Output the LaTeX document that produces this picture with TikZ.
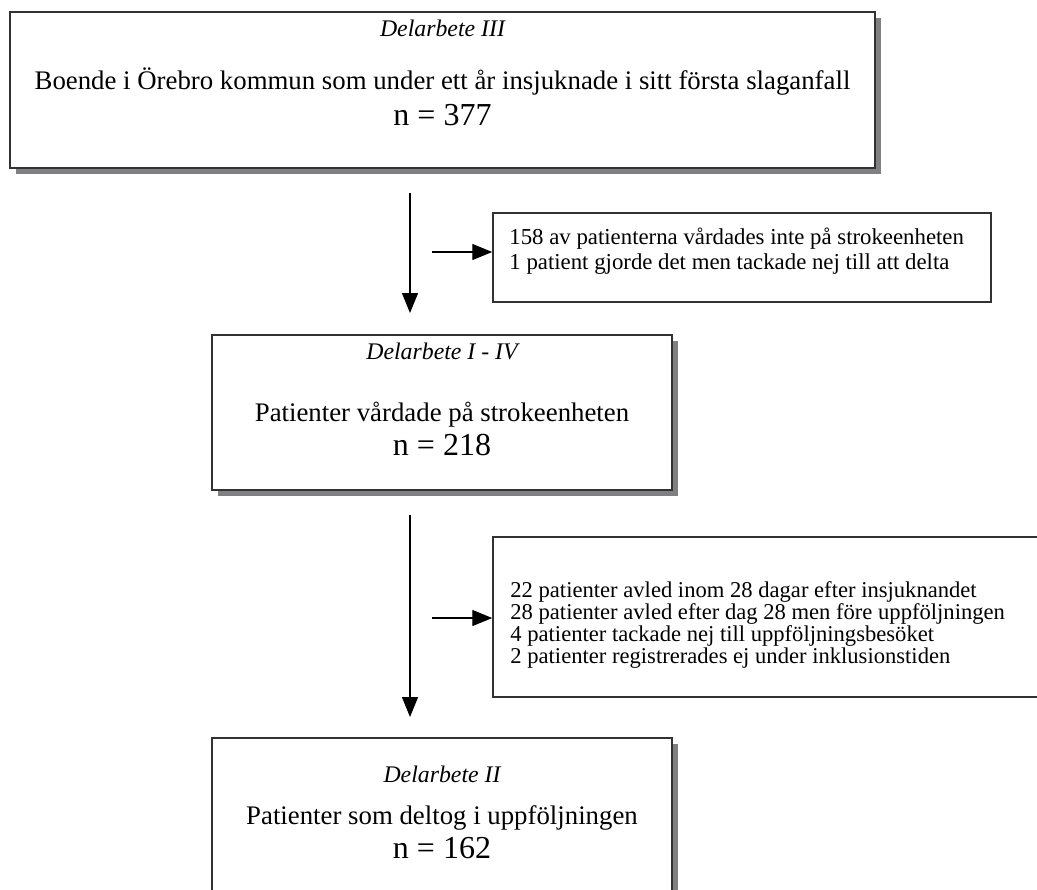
\documentclass[tikz,border=0pt]{standalone}
\usepackage{fontspec}
\setmainfont{Liberation Serif}
\usepackage{tikz}
\usetikzlibrary{arrows.meta,positioning,shadows}
\usepackage{xcolor}
\definecolor{boxline}{RGB}{50,50,50}
\definecolor{shadowgray}{RGB}{128,128,130}
\newcommand\tightlines{\lineskiplimit=-10pt\relax}

\begin{document}
\begin{tikzpicture}[x=0.5pt, y=-0.5pt,
  box/.style={draw=boxline, line width=0.75pt, fill=white, inner sep=0pt,
    drop shadow={shadow xshift=3pt, shadow yshift=-3pt, fill=shadowgray, opacity=1}},
  sidebox/.style={draw=boxline, line width=0.75pt, fill=white, inner sep=0pt},
  title/.style={inner sep=0pt, font=\fontsize{11.9}{13}\selectfont\itshape},
  maintext/.style={inner sep=0pt, font=\fontsize{13.4}{15}\selectfont},
  count/.style={inner sep=0pt, font=\fontsize{16}{18}\selectfont},
  sidetext/.style={inner sep=0pt, align=left, anchor=west},
  flow/.style={line width=0.65pt, -{Triangle[length=10pt, width=8pt]}}
]
\useasboundingbox (0,0) rectangle (1037,889);

% -------- Delarbete III --------
\node[box, minimum width=432.5pt, minimum height=78pt] (b1) at (442.5,90) {};
\node[title] (t1) at (442.5,28) {Delarbete III};
\node[maintext] (m1) at (442.5,82) {Boende i Örebro kommun som under ett år insjuknade i sitt första slaganfall};
\node[count] (n1) at (442.5,115) {n = 377};

% Bortfall 1
\node[sidebox, minimum width=249pt, minimum height=44.5pt] (s1) at (742,257.5) {};
\node[sidetext, font=\fontsize{11.4}{12.5}\selectfont] (e1) at (509,251)
  {158 av patienterna vårdades inte på strokeenheten\\1 patient gjorde det men tackade nej till att delta};

% -------- Delarbete I - IV --------
\node[box, minimum width=230pt, minimum height=77.5pt] (b2) at (442,412.5) {};
\node[title] (t2) at (442,351) {Delarbete I - IV};
\node[maintext] (m2) at (442,415) {Patienter vårdade på strokeenheten};
\node[count] (n2) at (442,445) {n = 218};

% Bortfall 2
\node[sidebox, minimum width=310pt, minimum height=80pt] (s2) at (803,617) {};
\node[sidetext, font=\fontsize{11.3}{11.1}\selectfont\tightlines] (e2) at (510,625)
  {22 patienter avled inom 28 dagar efter insjuknandet\\
   28 patienter avled efter dag 28 men före uppföljningen\\
   4 patienter tackade nej till uppföljningsbesöket\\
   2 patienter registrerades ej under inklusionstiden};

% -------- Delarbete II --------
\node[box, minimum width=230pt, minimum height=100pt] (b3) at (442,838) {};
\node[title] (t3) at (442,774) {Delarbete II};
\node[maintext] (m3) at (442,818) {Patienter som deltog i uppföljningen};
\node[count] (n3) at (442,848) {n = 162};

% Pilar
\coordinate (p1) at (410,193);
\coordinate (q1) at (410,313);
\coordinate (r1) at (432,252);
\draw[flow] (p1) -- (q1);
\draw[flow] (r1) -- (s1.west |- r1);

\coordinate (p2) at (410,515);
\coordinate (q2) at (410,717);
\coordinate (r2) at (432,618);
\draw[flow] (p2) -- (q2);
\draw[flow] (r2) -- (s2.west |- r2);

\end{tikzpicture}
\end{document}
